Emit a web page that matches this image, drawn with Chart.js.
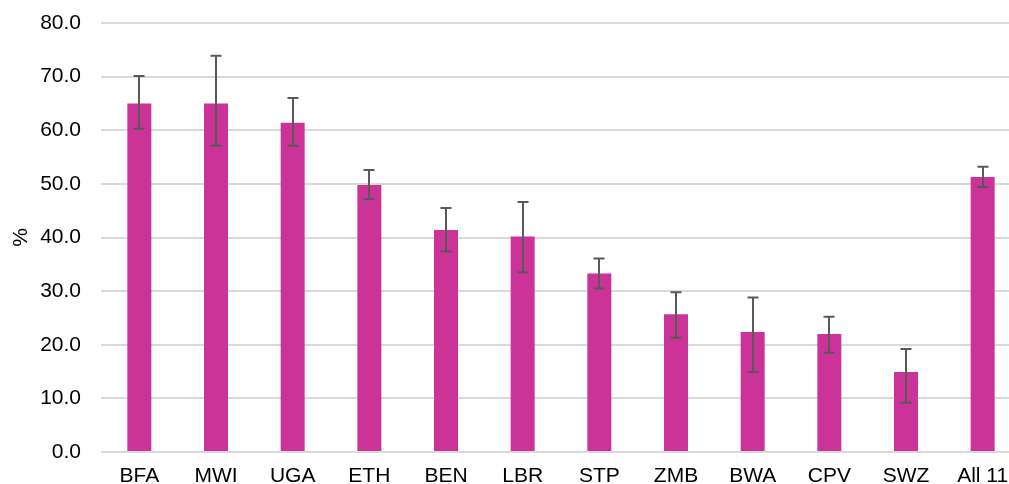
<!DOCTYPE html>
<html>
<head>
<meta charset="utf-8">
<script src="https://cdn.jsdelivr.net/npm/chart.js@4/dist/chart.umd.min.js"></script>
<style>
  html, body { margin: 0; padding: 0; background: #fff; overflow: hidden; }
  #wrap { width: 1021px; height: 484px; }
</style>
</head>
<body>
<div id="wrap"><canvas id="chart" width="1021" height="484"></canvas></div>
<script>
const countries = ["BFA", "MWI", "UGA", "ETH", "BEN", "LBR", "STP", "ZMB", "BWA", "CPV", "SWZ", "All 11"];
const percentValues = [65.0, 65.0, 61.4, 49.8, 41.4, 40.2, 33.3, 25.7, 22.4, 22.0, 14.9, 51.3];
const upperBounds = [70.1, 73.9, 66.0, 52.6, 45.5, 46.6, 36.1, 29.8, 28.8, 25.2, 19.2, 53.2];
const lowerBounds = [60.3, 57.1, 57.1, 47.2, 37.4, 33.5, 30.5, 21.3, 14.9, 18.5, 9.2, 49.4];

// whiskers drawn on top of the bars, using the chart's own y scale
const errorBarPlugin = {
    id: "errorBars",
    afterDatasetsDraw(chart) {
        const ctx = chart.ctx;
        const yScale = chart.scales.y;
        const meta = chart.getDatasetMeta(0);
        ctx.save();
        ctx.strokeStyle = "#595959";
        ctx.lineWidth = 2;
        meta.data.forEach((bar, i) => {
            const x = Math.round(bar.x);
            const top = yScale.getPixelForValue(upperBounds[i]);
            const bottom = yScale.getPixelForValue(lowerBounds[i]);
            ctx.beginPath();
            ctx.moveTo(x, top);
            ctx.lineTo(x, bottom);
            ctx.moveTo(x - 5.5, top);
            ctx.lineTo(x + 5.5, top);
            ctx.moveTo(x - 5.5, bottom);
            ctx.lineTo(x + 5.5, bottom);
            ctx.stroke();
        });
        ctx.restore();
    }
};

const chart = new Chart(document.getElementById("chart").getContext("2d"), {
    type: "bar",
    data: {
        labels: countries,
        datasets: [{
            data: percentValues,
            backgroundColor: "#cc3399",
            barPercentage: 1,
            categoryPercentage: 0.313
        }]
    },
    options: {
        responsive: false,
        animation: false,
        layout: { padding: { top: 23, right: 0, left: 0, bottom: 0 } },
        plugins: {
            legend: { display: false },
            tooltip: { enabled: false }
        },
        scales: {
            x: {
                grid: { display: false },
                border: { display: false },
                ticks: {
                    color: "#000",
                    padding: 4,
                    font: { family: "Liberation Sans", size: 21 }
                },
                afterFit(scale) { scale.height = 32; }
            },
            y: {
                min: 0,
                max: 80,
                ticks: {
                    stepSize: 10,
                    color: "#000",
                    padding: 20,
                    font: { family: "Liberation Sans", size: 21 },
                    callback: v => v.toFixed(1)
                },
                grid: { color: "#d9d9d9", lineWidth: 2, drawTicks: false },
                border: { display: false },
                title: {
                    display: true,
                    text: "%",
                    color: "#000",
                    font: { family: "Liberation Sans", size: 21 },
                    padding: { top: 9, bottom: 0 }
                },
                afterFit(scale) {
                    scale.width = 101;
                    scale.paddingTop = 0;
                    scale.paddingBottom = 0;
                }
            }
        }
    },
    plugins: [errorBarPlugin]
});
</script>
</body>
</html>
